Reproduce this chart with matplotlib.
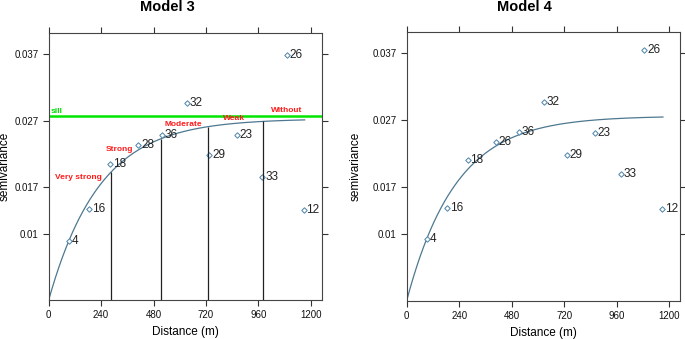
import matplotlib.pyplot as plt
import numpy as np

plt.rcParams['font.family'] = ['Liberation Sans', 'DejaVu Sans']

dist3 = [93, 186, 280, 410, 517, 631, 735, 860, 979, 1089, 1168]
gamma3 = [0.0089, 0.0137, 0.0205, 0.0234, 0.0249, 0.0296, 0.0218, 0.0248, 0.0185, 0.0369, 0.0136]
npairs3 = ['4', '16', '18', '28', '36', '32', '29', '23', '33', '26', '12']

# Model 4
dist4 = [91, 184, 279, 407, 514, 628, 732, 860, 979, 1087, 1168]
gamma4 = [0.0092, 0.0138, 0.0210, 0.0237, 0.0252, 0.0297, 0.0218, 0.0251, 0.0190, 0.0375, 0.0137]
npairs4 = ['4', '16', '18', '26', '36', '32', '29', '23', '33', '26', '12']

# fitted exponential models
sill3, range3 = 0.0273, 700
sill4, range4 = 0.0276, 674
sill_line = 0.0277

# dependence classes (Model 3)
class_dist = [285, 512, 730, 980]
class_labels = ['Very strong', 'Strong', 'Moderate', 'Weak', 'Without']
class_label_x = [30, 262, 532, 797, 1017]
class_label_y = [0.0185, 0.0226, 0.0264, 0.0274, 0.0285]

xticks = [0, 240, 480, 720, 960, 1200]
yticks = [0.01, 0.017, 0.027, 0.037]
ytick_labels = ['0.01', '0.017', '0.027', '0.037']

pt_color = '#4a82a8'
curve_color = '#4d7890'


def expo(h, c, a):
    return c * (1 - np.exp(-3 * h / a))


fig = plt.figure(figsize=(6.85, 3.39), dpi=100)
ax3 = fig.add_axes([0.0711, 0.115, 0.3985, 0.7876])
ax4 = fig.add_axes([0.5937, 0.113, 0.399, 0.7935])

panels = [
    (ax3, dist3, gamma3, npairs3, sill3, range3, -0.138),
    (ax4, dist4, gamma4, npairs4, sill4, range4, -0.166),
]

for ax, d, g, n, c, a, ylab_x in panels:
    h = np.linspace(0, 1172, 300)
    ax.plot(h, expo(h, c, a), color=curve_color, linewidth=0.9)
    ax.plot(d, g, linestyle='none', marker='D', markersize=2.8,
            markerfacecolor='white', markeredgecolor=pt_color, markeredgewidth=0.7)
    for xi, yi, lab in zip(d, g, n):
        ax.annotate(lab, (xi, yi), xytext=(2, 0), textcoords='offset points',
                    ha='left', va='center', fontsize=8.5, color='#222222')
    ax.set_xlim(0, 1250)
    ax.set_ylim(0, 0.0402)
    ax.set_xticks(xticks)
    ax.set_yticks(yticks)
    ax.set_yticklabels(ytick_labels)
    ax.tick_params(direction='out', length=4, width=0.8, labelsize=7,
                   top=True, right=True, colors='#333333', labelcolor='#111111')
    for s in ax.spines.values():
        s.set_color('#444444')
        s.set_linewidth(0.8)
    ax.set_xlabel('Distance (m)', fontsize=8.5, labelpad=4)
    ax.set_ylabel('semivariance', fontsize=8.5)
    ax.yaxis.set_label_coords(ylab_x, 0.5)

# Model 3 extras: sill line and class limits
ax3.axhline(sill_line, color='#00e600', linewidth=1.8)
ax3.text(10, sill_line + 0.0002, 'sill', color='#00dd00', fontsize=6,
         fontweight='bold', va='bottom', ha='left')
for xd in class_dist:
    ax3.vlines(xd, 0, expo(xd, sill3, range3), color='#222222', linewidth=0.9)
for lab, lx, ly in zip(class_labels, class_label_x, class_label_y):
    ax3.text(lx, ly, lab, color='#ff1a1a', fontsize=6, fontweight='bold',
             ha='left', va='center')

fig.text(0.245, 0.978, 'Model 3', ha='center', va='center', fontsize=10.5, fontweight='bold')
fig.text(0.766, 0.978, 'Model 4', ha='center', va='center', fontsize=10.5, fontweight='bold')

fig.savefig('out.png', dpi=100)
